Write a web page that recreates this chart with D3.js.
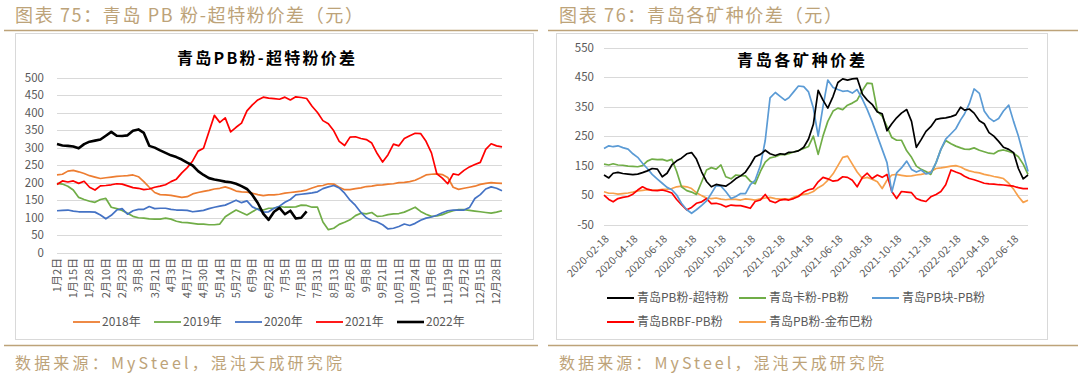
<!DOCTYPE html>
<html>
<head>
<meta charset="utf-8">
<script src="https://cdn.jsdelivr.net/npm/d3@7"></script>
<style>
body { margin: 0; background: #fff; }
svg { display: block; font-family: "Noto Sans CJK SC", "Noto Sans", sans-serif; }
</style>
</head>
<body>
<svg id="chart" width="1080" height="374"></svg>
<script>
// ---------- 图表75 data: one value every 3 trading days, starting 1月2日 ----------
var dayLabels = ["1月2日","1月15日","1月28日","2月10日","2月23日","3月8日","3月21日","4月3日",
  "4月17日","4月30日","5月14日","5月27日","6月9日","6月22日","7月5日","7月18日","7月31日",
  "8月13日","8月26日","9月8日","9月21日","10月11日","10月24日","11月6日","11月19日",
  "12月2日","12月15日","12月28日"];
var daysPerLabel = 9, totalDays = 246, sampleStep = 3;

var y2018 = [222,224,233,235,231,226,220,216,212,214,216,218,219,220,222,217,203,187,172,166,
  165,164,161,158,160,168,172,175,178,182,184,188,183,176,174,173,170,166,163,165,
  165,167,170,172,174,176,179,185,190,192,197,196,187,180,180,183,185,189,190,193,
  194,196,197,200,201,203,207,214,222,224,225,223,215,187,181,184,187,190,195,198,
  200,199,198];
var y2019 = [198,196,190,179,158,152,147,144,152,155,130,126,121,113,104,100,99,97,96,96,
  99,96,90,87,86,84,82,82,80,80,82,103,113,122,115,108,117,126,122,127,
  127,132,130,130,131,136,135,130,130,88,66,70,81,87,94,106,113,111,115,104,
  105,109,111,112,116,123,130,118,110,104,105,109,115,120,123,123,121,119,117,115,
  113,116,120];
var y2020 = [120,121,122,119,117,117,117,116,108,97,107,122,126,110,120,124,124,132,126,127,
  127,124,122,122,121,117,119,121,126,130,133,136,143,150,143,148,131,124,116,117,
  127,133,144,152,165,167,169,171,174,183,188,192,185,170,150,135,115,100,92,88,
  80,68,70,75,82,78,84,93,99,102,107,114,120,122,122,122,129,155,166,182,
  188,184,177];
var y2021 = [195,205,202,205,198,204,187,179,191,192,194,197,196,191,186,184,180,182,187,190,
  194,203,210,228,243,262,290,298,345,392,372,385,345,358,370,405,422,436,444,441,
  440,438,444,436,445,443,440,418,400,377,368,348,318,306,330,331,326,323,313,283,
  259,280,310,305,326,334,341,340,318,285,225,213,197,225,222,235,245,252,258,295,
  311,305,302];
var y2022 = [310,306,305,303,298,310,317,320,323,334,345,334,333,335,348,352,342,305,300,292,
  285,278,273,266,257,249,233,222,213,209,206,203,201,197,190,182,165,142,112,94,
  117,128,110,120,98,100,118];

var yearNames = ["2018年","2019年","2020年","2021年","2022年"];
var yearColors = ["#ED7D31","#70AD47","#4472C4","#FF0000","#000000"];
var yearSeries = [y2018, y2019, y2020, y2021, y2022];

// ---------- 图表76 data: one value every ~10 days from 2020-02-18 ----------
var pbSuper = [118,108,124,127,123,121,119,121,126,132,140,138,112,124,152,166,175,190,194,172,
  128,96,78,86,83,80,92,106,115,128,152,180,188,202,190,184,190,188,195,196,
  200,212,240,290,405,372,345,385,432,444,440,444,446,392,372,358,332,326,268,292,
  312,328,340,300,212,238,266,282,307,310,312,316,322,348,338,342,328,302,292,262,
  250,232,212,205,194,140,105,118];
var kaPB = [155,152,156,152,151,148,147,146,150,165,172,170,171,166,171,130,78,65,60,52,
  95,135,143,138,152,112,105,118,116,115,97,88,130,162,176,180,187,187,190,196,
  201,208,215,250,188,250,300,335,345,340,355,362,372,405,430,428,335,318,282,245,
  236,236,200,178,148,137,130,120,160,205,235,224,216,210,206,205,210,202,197,192,
  190,200,203,198,192,180,155,120];
var lumpPB = [208,217,214,217,211,206,190,178,158,140,120,104,90,76,68,50,22,0,-12,0,
  15,30,55,82,80,62,38,45,55,55,85,100,150,235,380,398,385,372,380,400,
  420,418,400,345,250,350,440,415,408,402,404,396,408,375,340,300,250,205,160,60,
  125,142,165,137,128,135,122,125,160,205,240,258,275,305,325,360,410,395,335,312,
  300,310,335,355,300,250,190,130];
var brbfPB = [50,35,27,38,42,45,53,67,78,70,66,65,67,63,57,35,17,0,8,22,
  27,38,21,22,18,10,16,14,14,10,5,28,33,52,30,24,33,35,33,38,
  45,60,68,72,95,110,105,97,100,112,110,100,78,110,124,106,118,110,120,62,
  38,62,60,58,38,32,28,44,52,62,85,135,128,122,114,106,102,96,90,88,
  87,85,84,82,80,75,72,72];
var pbJMB = [61,56,56,53,55,57,60,64,66,68,67,67,69,70,72,78,80,78,72,58,
  48,40,38,40,36,34,36,35,33,37,35,33,37,40,42,38,36,37,35,42,
  48,52,55,62,75,84,100,122,150,178,182,155,128,106,110,104,95,72,100,118,
  120,117,114,115,118,120,123,130,140,142,145,148,150,145,138,132,128,125,120,117,
  113,110,106,90,70,45,25,32];

var dateTicks = ["2020-02-18","2020-04-18","2020-06-18","2020-08-18","2020-10-18","2020-12-18",
  "2021-02-18","2021-04-18","2021-06-18","2021-08-18","2021-10-18","2021-12-18",
  "2022-02-18","2022-04-18","2022-06-18"];
var spreadNames = ["青岛PB粉-超特粉","青岛卡粉-PB粉","青岛PB块-PB粉","青岛BRBF-PB粉","青岛PB粉-金布巴粉"];
var spreadColors = ["#000000","#70AD47","#5B9BD5","#FF0000","#F7A04B"];
var spreadSeries = [pbSuper, kaPB, lumpPB, brbfPB, pbJMB];

// dates of the samples: the 18th, 28th and 8th of each month
var spreadDates = d3.range(pbSuper.length).map(function(k) {
  var m = Math.floor(k / 3), r = k % 3;
  if (r === 0) return new Date(2020, 1 + m, 18);
  if (r === 1) return new Date(2020, 1 + m, 28);
  return new Date(2020, 2 + m, 8);
});

var svg = d3.select("#chart");
var tan = "#bda379", gridColor = "#d9d9d9", labelColor = "#595959";

// page frame for one panel: heading, rules, box, source line
function panel(x0, x1, boxX0, boxX1, heading, headingLen, sourceLen) {
  svg.append("text").attr("x", x0 + 11).attr("y", 22)
    .attr("font-size", 18).attr("fill", tan)
    .attr("textLength", headingLen).attr("lengthAdjust", "spacing")
    .text(heading);
  svg.append("line").attr("x1", x0).attr("x2", x1).attr("y1", 30.5).attr("y2", 30.5)
    .attr("stroke", tan).attr("stroke-width", 1.5);
  svg.append("rect").attr("x", boxX0 + 0.5).attr("y", 33.5)
    .attr("width", boxX1 - boxX0).attr("height", 306)
    .attr("fill", "none").attr("stroke", gridColor);
  svg.append("line").attr("x1", x0).attr("x2", x1).attr("y1", 345.5).attr("y2", 345.5)
    .attr("stroke", tan).attr("stroke-width", 1.5);
  svg.append("text").attr("x", x0 + 11).attr("y", 369)
    .attr("font-size", 16).attr("fill", tan)
    .attr("textLength", sourceLen).attr("lengthAdjust", "spacing")
    .text("数据来源：MySteel，混沌天成研究院");
}

panel(4, 538, 15, 533, "图表 75：青岛 PB 粉-超特粉价差（元）", 348, 327);
panel(548, 1078, 556, 1047, "图表 76：青岛各矿种价差（元）", 283, 325);

// ================= left chart =================
var xL = d3.scaleLinear().domain([0, totalDays]).range([57, 502]);
var yL = d3.scaleLinear().domain([0, 500]).range([252.8, 77.5]);

svg.append("text").attr("x", 266).attr("y", 64).attr("text-anchor", "middle")
  .attr("font-size", 16).attr("font-weight", "bold").attr("fill", "#000")
  .attr("textLength", 178).attr("lengthAdjust", "spacing")
  .text("青岛PB粉-超特粉价差");

var gL = svg.append("g");
gL.selectAll(".grid").data(yL.ticks(10)).enter().append("line")
  .attr("x1", 57).attr("x2", 502)
  .attr("y1", function(d) { return Math.round(yL(d)) + 0.5; })
  .attr("y2", function(d) { return Math.round(yL(d)) + 0.5; })
  .attr("stroke", gridColor).attr("stroke-width", 1.2);

gL.selectAll(".ylab").data(yL.ticks(10)).enter().append("text")
  .attr("x", 44).attr("y", function(d) { return yL(d); }).attr("dy", "0.35em")
  .attr("text-anchor", "end").attr("font-size", 11.5).attr("fill", labelColor)
  .text(function(d) { return d; });

gL.selectAll(".xlab").data(dayLabels).enter().append("text")
  .attr("transform", function(d, i) {
    return "translate(" + xL(i * daysPerLabel) + ",258) rotate(-90)";
  })
  .attr("dy", "0.35em").attr("text-anchor", "end")
  .attr("font-size", 11).attr("fill", labelColor)
  .text(function(d) { return d; });

var lineL = d3.line()
  .x(function(d, i) { return xL(i * sampleStep); })
  .y(function(d) { return yL(d); });

yearSeries.forEach(function(s, j) {
  gL.append("path").datum(s)
    .attr("d", lineL).attr("fill", "none")
    .attr("stroke", yearColors[j])
    .attr("stroke-width", j === 4 ? 2.6 : 1.7)
    .attr("stroke-linejoin", "round");
});

// legend
yearNames.forEach(function(name, j) {
  var lx = 73 + j * 81;
  svg.append("line").attr("x1", lx).attr("x2", lx + 27).attr("y1", 322).attr("y2", 322)
    .attr("stroke", yearColors[j]).attr("stroke-width", j === 4 ? 2.6 : 1.8);
  svg.append("text").attr("x", lx + 29).attr("y", 322).attr("dy", "0.35em")
    .attr("font-size", 12).attr("fill", labelColor).text(name);
});

// ================= right chart =================
var parseDay = d3.timeParse("%Y-%m-%d");
var xR = d3.scaleTime().domain([spreadDates[0], spreadDates[spreadDates.length - 1]]).range([604, 1028]);
var yR = d3.scaleLinear().domain([-50, 550]).range([224.5, 47.7]);
var rTicks = d3.range(-50, 551, 100);

var gR = svg.append("g");
gR.selectAll(".grid").data(rTicks).enter().append("line")
  .attr("x1", 604).attr("x2", 1028)
  .attr("y1", function(d) { return Math.round(yR(d)) + 0.5; })
  .attr("y2", function(d) { return Math.round(yR(d)) + 0.5; })
  .attr("stroke", gridColor).attr("stroke-width", 1.2);

gR.selectAll(".ylab").data(rTicks).enter().append("text")
  .attr("x", 594).attr("y", function(d) { return yR(d); }).attr("dy", "0.35em")
  .attr("text-anchor", "end").attr("font-size", 11.5).attr("fill", labelColor)
  .text(function(d) { return d; });

svg.append("text").attr("x", 801).attr("y", 66).attr("text-anchor", "middle")
  .attr("font-size", 16).attr("font-weight", "bold").attr("fill", "#000")
  .attr("textLength", 128).attr("lengthAdjust", "spacing")
  .text("青岛各矿种价差");

gR.selectAll(".xlab").data(dateTicks).enter().append("text")
  .attr("transform", function(d) {
    return "translate(" + (xR(parseDay(d)) + 3) + ",237) rotate(-45)";
  })
  .attr("dy", "0.35em").attr("text-anchor", "end")
  .attr("font-size", 10.5).attr("fill", labelColor)
  .text(function(d) { return d; });

var lineR = d3.line()
  .x(function(d, i) { return xR(spreadDates[i]); })
  .y(function(d) { return yR(d); });

// draw order: orange and red under the rest, black on top
[4, 3, 1, 2, 0].forEach(function(j) {
  gR.append("path").datum(spreadSeries[j])
    .attr("d", lineR).attr("fill", "none")
    .attr("stroke", spreadColors[j]).attr("stroke-width", 1.7)
    .attr("stroke-linejoin", "round");
});

var legendPos = [[607, 298], [739, 298], [872, 298], [607, 322], [739, 322]];
spreadNames.forEach(function(name, j) {
  var p = legendPos[j];
  svg.append("line").attr("x1", p[0]).attr("x2", p[0] + 27).attr("y1", p[1]).attr("y2", p[1])
    .attr("stroke", spreadColors[j]).attr("stroke-width", 2);
  svg.append("text").attr("x", p[0] + 30).attr("y", p[1]).attr("dy", "0.35em")
    .attr("font-size", 12).attr("fill", labelColor).text(name);
});
</script>
</body>
</html>
